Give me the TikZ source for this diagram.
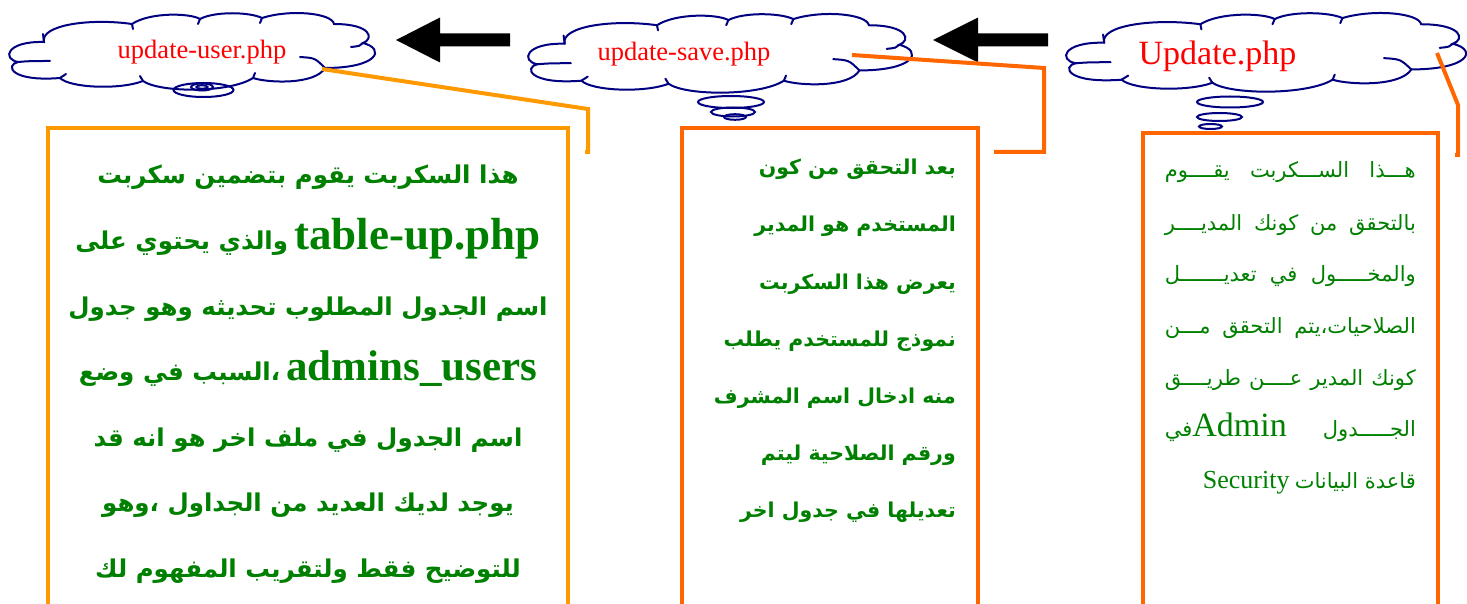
\documentclass[tikz,border=0pt]{standalone}
\usepackage{fontspec}
\setmainfont{Liberation Serif}
\newfontfamily\arabicfont[Script=Arabic]{DejaVu Sans}
\TeXXeTstate=1
\usetikzlibrary{arrows.meta}
\definecolor{navyline}{HTML}{000080}
\definecolor{amberline}{HTML}{FF9900}
\definecolor{rustline}{HTML}{FF6600}
\definecolor{leaf}{HTML}{008000}
\newcommand\artext[1]{{\arabicfont\beginR #1\endR}}
\newcommand\fsz[1]{\fontsize{#1}{#1}\selectfont}

\tikzset{
  cloudline/.style={draw=navyline, line width=2pt},
  thought/.pic={
    \draw[cloudline] (8,47) .. controls (-8,44) and (-4,26) .. (34,27)
       .. controls (30,10) and (80,3) .. (122,9)
       .. controls (140,-3) and (180,-2) .. (190,4)
       .. controls (205,-4) and (240,-3) .. (252,3)
       .. controls (280,-6) and (322,-2) .. (324,9)
       .. controls (362,9) and (364,24) .. (353,28)
       .. controls (376,34) and (368,53) .. (315,53)
       .. controls (305,70) and (258,68) .. (243,63)
       .. controls (220,78) and (150,78) .. (133,66)
       .. controls (110,75) and (60,73) .. (50,63)
       .. controls (0,67) and (-5,50) .. (8,47) -- cycle;
    \draw[cloudline, line cap=round]
       (8,47) .. controls (20,46) .. (40,46)
       (34,27) -- (33,19)
       (122,9) -- (123,14)
       (190,4) -- (188,9)
       (252,3) -- (250,8)
       (353,28) .. controls (350,31) .. (341,32)
       (290,42) .. controls (305,43) .. (315,53)
       (243,63) -- (245,58)
       (133,66) -- (130,61)
       (50,63) -- (56,59);
  }
}

\begin{document}
\begin{tikzpicture}[x=1pt, y=-1pt,
  cloudlabel/.style={text=red, inner sep=0pt, anchor=base},
  blockarrow/.style={fill=black},
  linkA/.style={draw=amberline, line width=4pt, line join=miter},
  linkB/.style={draw=rustline, line width=4pt, line join=miter},
  boxA/.style={draw=amberline, line width=4pt, inner sep=0pt, outer sep=0pt, anchor=north west},
  boxB/.style={draw=rustline, line width=4pt, inner sep=0pt, outer sep=0pt, anchor=north west},
  boldline/.style={text=leaf, inner sep=0pt, anchor=base, font=\bfseries\fsz{24.5}},
  midline/.style={text=leaf, inner sep=0pt, anchor=base east, font=\bfseries\fsz{20.5}},
  thinline/.style={text=leaf, inner sep=0pt, anchor=base east, font=\fsz{21}},
  bubble/.style={cloudline}]

\clip (0,0) rectangle (1467,604);
\fill[white] (0,0) rectangle (1467,604);

% thought clouds
\pic[xscale=1, yscale=1] at (10,15) {thought};
\pic[xscale=1.049, yscale=1.027] at (529,16) {thought};
\pic[xscale=1.093, yscale=1.027] at (1067,15) {thought};

% trailing bubbles under each cloud
\draw[bubble] (203.5,90) ellipse [x radius=30pt, y radius=7pt];
\draw[bubble] (202,87) ellipse [x radius=11pt, y radius=3.5pt];
\draw[bubble] (202,87) ellipse [x radius=5.5pt, y radius=1.8pt];
\draw[bubble] (731,102) ellipse [x radius=33pt, y radius=6pt];
\draw[bubble] (733,112) ellipse [x radius=22pt, y radius=4.5pt];
\draw[bubble] (735,117) ellipse [x radius=11pt, y radius=2.8pt];
\draw[bubble] (1230,102) ellipse [x radius=33pt, y radius=5.5pt];
\draw[bubble] (1219.5,117) ellipse [x radius=22.5pt, y radius=4pt];
\draw[bubble] (1210.5,126.5) ellipse [x radius=11.5pt, y radius=2.5pt];

% file names
\node[cloudlabel, font=\fsz{26.5}] (fuser) at (202,59) {update-user.php};
\node[cloudlabel, font=\fsz{26.5}] (fsave) at (684,61) {update-save.php};
\node[cloudlabel, font=\fsz{34}] (fupd) at (1217.5,65) {Update.php};

% block arrows pointing to the previous step
\coordinate (tipA) at (396,40);
\coordinate (tipB) at (933,40);
\fill[blockarrow] (tipA) -- ++(44,-22.5) -- ++(0,16) -- ++(70,0) -- ++(0,13) -- ++(-70,0) -- ++(0,16) -- cycle;
\fill[blockarrow] (tipB) -- ++(45,-22.5) -- ++(0,16) -- ++(70,0) -- ++(0,13) -- ++(-70,0) -- ++(0,16) -- cycle;

% description boxes
\node[boxA, minimum width=520pt, minimum height=560pt] (boxuser) at (48,128) {};
\node[boxB, minimum width=296pt, minimum height=560pt] (boxsave) at (682,128) {};
\node[boxB, minimum width=295pt, minimum height=560pt] (boxupd) at (1143,133) {};

% callout leaders
\coordinate (leadA0) at (322,69);
\coordinate (leadA1) at (588,109);
\coordinate (leadA2) at (588,152);
\coordinate (leadA3) at (585,152);
\draw[linkA] (leadA0) -- (leadA1) -- (leadA2) -- (leadA3);
\coordinate (leadB0) at (852,55);
\coordinate (leadB1) at (1044,68);
\coordinate (leadB2) at (1044,152);
\coordinate (leadB3) at (994,152);
\draw[linkB] (leadB0) -- (leadB1) -- (leadB2) -- (leadB3);
\coordinate (leadC0) at (1437,53);
\coordinate (leadC1) at (1458,105);
\coordinate (leadC2) at (1458,155);
\coordinate (leadC3) at (1455,155);
\draw[linkB] (leadC0) -- (leadC1) -- (leadC2) -- (leadC3);

% text of the left box (right-to-left lines, Latin names at the line start)
\node[boldline] (ua1) at (308,184) {\hbox{\artext{هذا السكربت يقوم بتضمين سكربت}}};
\node[boldline] (ua2) at (308,249.5) {\hbox{\artext{والذي يحتوي على} {\fsz{45}table-up.php}}};
\node[boldline] (ua3) at (308,315) {\hbox{\artext{اسم الجدول المطلوب تحديثه وهو جدول}}};
\node[boldline] (ua4) at (308,380.5) {\hbox{\artext{،السبب في وضع} {\fsz{43}admins\_users}}};
\node[boldline] (ua5) at (308,446) {\hbox{\artext{اسم الجدول في ملف اخر هو انه قد}}};
\node[boldline] (ua6) at (308,511.5) {\hbox{\artext{يوجد لديك العديد من الجداول ،وهو}}};
\node[boldline] (ua7) at (308,577) {\hbox{\artext{للتوضيح فقط ولتقريب المفهوم لك}}};

% text of the middle box
\node[midline] (sa1) at (956,175) {\hbox{\artext{بعد التحقق من كون}}};
\node[midline] (sa2) at (956,232) {\hbox{\artext{المستخدم هو المدير}}};
\node[midline] (sa3) at (956,289) {\hbox{\artext{يعرض هذا السكربت}}};
\node[midline] (sa4) at (956,346) {\hbox{\artext{نموذج للمستخدم يطلب}}};
\node[midline] (sa5) at (956,403) {\hbox{\artext{منه ادخال اسم المشرف}}};
\node[midline] (sa6) at (956,460) {\hbox{\artext{ورقم الصلاحية ليتم}}};
\node[midline] (sa7) at (956,517) {\hbox{\artext{تعديلها في جدول اخر}}};

% text of the right box, stretched to the full measure
\node[thinline] (pa1) at (1416,178) {\hbox to 251pt{\artext{هـــذا\hfill الســـكربت\hfill يقــــوم}}};
\node[thinline] (pa2) at (1416,230) {\hbox to 251pt{\artext{بالتحقق\hfill من\hfill كونك\hfill المديــــر}}};
\node[thinline] (pa3) at (1416,281) {\hbox to 251pt{\artext{والمخـــــول\hfill في\hfill تعديـــــــل}}};
\node[thinline] (pa4) at (1416,333) {\hbox to 251pt{\artext{الصلاحيات،يتم\hfill التحقق\hfill مـــن}}};
\node[thinline] (pa5) at (1416,385) {\hbox to 251pt{\artext{كونك\hfill المدير\hfill عــــن\hfill طريــــق}}};
\node[thinline] (pa6) at (1416,436) {\hbox to 251pt{\artext{في}{\fsz{34}Admin}\hfill\artext{الجـــــدول}}};
\node[thinline] (pa7) at (1416,488) {\hbox{{\fsz{26}Security} \artext{قاعدة البيانات}}};

\end{tikzpicture}
\end{document}
